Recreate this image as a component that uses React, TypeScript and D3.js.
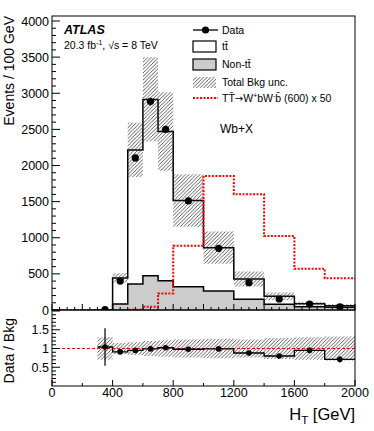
import React, { useEffect, useRef } from 'react'
import * as d3 from 'd3'

// bin edges and per-bin values (events / 100 GeV)
const edges = [300, 400, 500, 600, 700, 800, 1000, 1200, 1400, 1600, 1800, 2000]
const nonTt = [2, 83, 360, 475, 406, 323, 263, 148, 79, 46, 37]
const ttbar = [2, 360, 1856, 2440, 2064, 1191, 600, 281, 110, 42, 23]
const dataVals = [4, 400, 2105, 2885, 2500, 1510, 854, 378, 152, 83, 43]
const dataErr = [4, 20, 46, 54, 50, 27, 21, 14, 9, 6, 5]
const signal = [0, 0, 5, 46, 230, 890, 1856, 1602, 1025, 572, 439]
const bandRel = [0.3, 0.15, 0.17, 0.2, 0.22, 0.24, 0.26, 0.24, 0.28, 0.3, 0.32]
const ratioVals = [1.04, 0.91, 0.95, 0.99, 1.02, 0.98, 0.99, 0.88, 0.8, 0.95, 0.71]
const ratioErr = [0.5, 0.05, 0.02, 0.02, 0.02, 0.02, 0.025, 0.04, 0.05, 0.07, 0.08]
const xTickLabels = [0, 400, 800, 1200, 1600, 2000]
const yTickLabels = [0, 500, 1000, 1500, 2000, 2500, 3000, 3500, 4000]
const rTickLabels = [0.5, 1, 1.5]

const FONT = 'Liberation Sans, Arial, Helvetica, sans-serif'

const App = () => {
	const ref = useRef<SVGSVGElement>(null)

	useEffect(() => {
		document.body.style.margin = '0'
		const svg = d3.select(ref.current)
		svg.selectAll('*').remove()

		const left = 52, right = 355, top = 16, mainBottom = 310, ratioBottom = 386

		const x = d3.scaleLinear().domain([0, 2000]).range([left, right])
		const y = d3.scaleLinear().domain([0, 4000]).range([mainBottom, 21])
		const yr = d3.scaleLinear().domain([0, 2]).range([ratioBottom, 311])

		const total = ttbar.map((t, i) => t + nonTt[i])
		const n = dataVals.length

		const defs = svg.append('defs')
		const pat = defs.append('pattern')
			.attr('id', 'hatch')
			.attr('patternUnits', 'userSpaceOnUse')
			.attr('width', 3.6)
			.attr('height', 3.6)
		pat.append('path')
			.attr('d', 'M0,3.6 L3.6,0 M-1,1 L1,-1 M2.6,4.6 L4.6,2.6')
			.attr('stroke', '#333')
			.attr('stroke-width', 0.8)
		defs.append('clipPath').attr('id', 'clipMain')
			.append('rect').attr('x', left).attr('y', top).attr('width', right - left).attr('height', mainBottom - top)
		defs.append('clipPath').attr('id', 'clipRatio')
			.append('rect').attr('x', left).attr('y', mainBottom).attr('width', right - left).attr('height', ratioBottom - mainBottom)

		// helpers for step shapes
		const stepPts = (vals: number[]) => {
			const pts: [number, number][] = []
			vals.forEach((v, i) => {
				pts.push([edges[i], v])
				pts.push([edges[i + 1], v])
			})
			return pts
		}
		const bandPts = (lo: number[], hi: number[]) => {
			const pts: { x: number; lo: number; hi: number }[] = []
			lo.forEach((v, i) => {
				pts.push({ x: edges[i], lo: v, hi: hi[i] })
				pts.push({ x: edges[i + 1], lo: v, hi: hi[i] })
			})
			return pts
		}

		const main = svg.append('g').attr('clip-path', 'url(#clipMain)')
		const area = d3.area<{ x: number; lo: number; hi: number }>()
			.x(d => x(d.x)).y0(d => y(d.lo)).y1(d => y(d.hi))
		const line = d3.line<[number, number]>().x(d => x(d[0])).y(d => y(d[1]))

		// stacked fills
		main.append('path')
			.attr('d', area(bandPts(nonTt.map(() => 0), nonTt)))
			.attr('fill', '#cccccc')
		main.append('path')
			.attr('d', area(bandPts(nonTt, total)))
			.attr('fill', '#ffffff')

		// outlines
		const outline = (vals: number[]) => [[edges[0], 0] as [number, number], ...stepPts(vals), [edges[n], 0] as [number, number]]
		main.append('path')
			.attr('d', line(outline(nonTt)))
			.attr('fill', 'none').attr('stroke', '#000').attr('stroke-width', 1.5)
		main.append('path')
			.attr('d', line(outline(total)))
			.attr('fill', 'none').attr('stroke', '#000').attr('stroke-width', 1.5)

		// uncertainty band
		main.append('path')
			.attr('d', area(bandPts(total.map((t, i) => t * (1 - bandRel[i])), total.map((t, i) => t * (1 + bandRel[i])))))
			.attr('fill', 'url(#hatch)')

		// signal x 50
		main.append('path')
			.attr('d', line([[0, 0], ...stepPts(signal)]))
			.attr('fill', 'none').attr('stroke', '#ff0000').attr('stroke-width', 2)
			.attr('stroke-dasharray', '2,1.5')

		// data
		const mids = dataVals.map((_, i) => (edges[i] + edges[i + 1]) / 2)
		dataVals.forEach((v, i) => {
			main.append('line')
				.attr('x1', x(mids[i])).attr('x2', x(mids[i]))
				.attr('y1', y(v - dataErr[i])).attr('y2', y(v + dataErr[i]))
				.attr('stroke', '#000').attr('stroke-width', 1.3)
			main.append('circle')
				.attr('cx', x(mids[i])).attr('cy', y(v)).attr('r', 3.6).attr('fill', '#000')
		})

		// ratio panel
		const ratio = svg.append('g').attr('clip-path', 'url(#clipRatio)')
		const rarea = d3.area<{ x: number; lo: number; hi: number }>()
			.x(d => x(d.x)).y0(d => yr(d.lo)).y1(d => yr(d.hi))
		const rline = d3.line<[number, number]>().x(d => x(d[0])).y(d => yr(d[1]))
		ratio.append('path')
			.attr('d', rarea(bandPts(bandRel.map(b => 1 - b), bandRel.map(b => 1 + b))))
			.attr('fill', 'url(#hatch)')
		ratio.append('line')
			.attr('x1', x(0)).attr('x2', x(2000)).attr('y1', yr(1)).attr('y2', yr(1))
			.attr('stroke', '#ff0000').attr('stroke-width', 1).attr('stroke-dasharray', '3,2')
		ratio.append('path')
			.attr('d', rline(stepPts(ratioVals)))
			.attr('fill', 'none').attr('stroke', '#000').attr('stroke-width', 1.3)
		ratioVals.forEach((v, i) => {
			ratio.append('line')
				.attr('x1', x(mids[i])).attr('x2', x(mids[i]))
				.attr('y1', yr(v - ratioErr[i])).attr('y2', yr(v + ratioErr[i]))
				.attr('stroke', '#000').attr('stroke-width', 1.2)
			ratio.append('circle')
				.attr('cx', x(mids[i])).attr('cy', yr(v)).attr('r', 2.8).attr('fill', '#000')
		})

		// frames
		svg.append('rect').attr('x', left).attr('y', top).attr('width', right - left).attr('height', mainBottom - top)
			.attr('fill', 'none').attr('stroke', '#000').attr('stroke-width', 1)
		svg.append('rect').attr('x', left).attr('y', mainBottom).attr('width', right - left).attr('height', ratioBottom - mainBottom)
			.attr('fill', 'none').attr('stroke', '#000').attr('stroke-width', 1)

		const ticks = svg.append('g').attr('stroke', '#000').attr('stroke-width', 1)
		// main y ticks
		d3.range(0, 4001, 100).forEach(v => {
			const len = v % 500 === 0 ? 8 : 4
			ticks.append('line').attr('x1', left).attr('x2', left + len).attr('y1', y(v)).attr('y2', y(v))
		})
		// main x ticks
		d3.range(0, 2001, 50).forEach(v => {
			const len = v % 200 === 0 ? 6 : 3
			ticks.append('line').attr('x1', x(v)).attr('x2', x(v)).attr('y1', mainBottom).attr('y2', mainBottom - len)
		})
		// ratio y ticks
		d3.range(0.1, 2.01, 0.1).forEach(v => {
			const major = Math.abs(v * 2 - Math.round(v * 2)) < 1e-6
			ticks.append('line').attr('x1', left).attr('x2', left + (major ? 8 : 4)).attr('y1', yr(v)).attr('y2', yr(v))
		})
		// ratio x ticks
		d3.range(0, 2001, 200).forEach(v => {
			const len = v % 400 === 0 ? 6 : 3
			ticks.append('line').attr('x1', x(v)).attr('x2', x(v)).attr('y1', ratioBottom).attr('y2', ratioBottom - len)
		})

		const txt = svg.append('g').attr('font-family', FONT).attr('fill', '#000')
		yTickLabels.forEach(v => {
			txt.append('text').attr('x', 49).attr('y', y(v) + 4.5).attr('text-anchor', 'end')
				.attr('font-size', 12.5).text(v)
		})
		rTickLabels.forEach(v => {
			txt.append('text').attr('x', 49).attr('y', yr(v) + 4.5).attr('text-anchor', 'end')
				.attr('font-size', 12.5).text(v)
		})
		xTickLabels.forEach(v => {
			txt.append('text').attr('x', x(v)).attr('y', 396.5).attr('text-anchor', 'middle')
				.attr('font-size', 12.5).text(v)
		})

		// axis titles
		txt.append('text').attr('transform', 'translate(13.5,16) rotate(-90)')
			.attr('text-anchor', 'end').attr('font-size', 14).text('Events / 100 GeV')
		txt.append('text').attr('transform', 'translate(13.5,318) rotate(-90)')
			.attr('text-anchor', 'end').attr('font-size', 14).text('Data / Bkg')
		const ht = txt.append('text').attr('x', right).attr('y', 420).attr('text-anchor', 'end').attr('font-size', 16.5)
		ht.append('tspan').text('H')
		ht.append('tspan').attr('font-size', 11.5).attr('dy', 4).text('T')
		ht.append('tspan').attr('dy', -4).text(' [GeV]')

		// labels
		txt.append('text').attr('x', 64).attr('y', 33.5).attr('font-size', 12.5)
			.attr('font-weight', 'bold').attr('font-style', 'italic').text('ATLAS')
		const lumi = txt.append('text').attr('x', 64).attr('y', 49).attr('font-size', 10.5)
		lumi.append('tspan').text('20.3 fb')
		lumi.append('tspan').attr('font-size', 7).attr('dy', -4).text('-1')
		lumi.append('tspan').attr('dy', 4).text(', \u221As = 8 TeV')
		txt.append('text').attr('x', 220).attr('y', 133).attr('font-size', 12).text('Wb+X')

		// legend
		const lx = 193, lw = 24, tx = 222
		const leg = svg.append('g')
		leg.append('line').attr('x1', lx).attr('x2', lx + lw + 1).attr('y1', 30).attr('y2', 30)
			.attr('stroke', '#000').attr('stroke-width', 1.3)
		leg.append('circle').attr('cx', lx + lw / 2 + 0.5).attr('cy', 30).attr('r', 3.6).attr('fill', '#000')
		leg.append('rect').attr('x', lx).attr('y', 41).attr('width', lw - 1).attr('height', 11)
			.attr('fill', '#fff').attr('stroke', '#000').attr('stroke-width', 1.2)
		leg.append('rect').attr('x', lx).attr('y', 59).attr('width', lw - 1).attr('height', 11)
			.attr('fill', '#cccccc').attr('stroke', '#000').attr('stroke-width', 1.2)
		leg.append('rect').attr('x', lx).attr('y', 77).attr('width', lw - 1).attr('height', 11)
			.attr('fill', 'url(#hatch)')
		leg.append('line').attr('x1', lx).attr('x2', lx + lw + 1).attr('y1', 98).attr('y2', 98)
			.attr('stroke', '#ff0000').attr('stroke-width', 2).attr('stroke-dasharray', '2,1.5')

		const legText = [
			{ y: 30, t: 'Data' },
			{ y: 46.5, t: 'tt\u0304' },
			{ y: 64.5, t: 'Non-tt\u0304' },
			{ y: 82.5, t: 'Total Bkg unc.' },
		]
		legText.forEach(d => {
			txt.append('text').attr('x', tx).attr('y', d.y + 3.8).attr('font-size', 10.5).text(d.t)
		})
		const sig = txt.append('text').attr('x', tx).attr('y', 98 + 3.8).attr('font-size', 10.5)
		sig.append('tspan').text('TT\u0304')
		sig.append('tspan').attr('font-family', 'DejaVu Sans').attr('font-size', 10).text('\u2192')
		sig.append('tspan').text('W')
		sig.append('tspan').attr('font-size', 7).attr('dy', -4).text('+')
		sig.append('tspan').attr('dy', 4).text('bW')
		sig.append('tspan').attr('font-size', 7).attr('dy', -4).text('-')
		sig.append('tspan').attr('dy', 4).text('b\u0304 (600) x 50')
	}, [])

	return <svg ref={ref} width={374} height={431} style={{ display: 'block' }}></svg>
}

export default App
